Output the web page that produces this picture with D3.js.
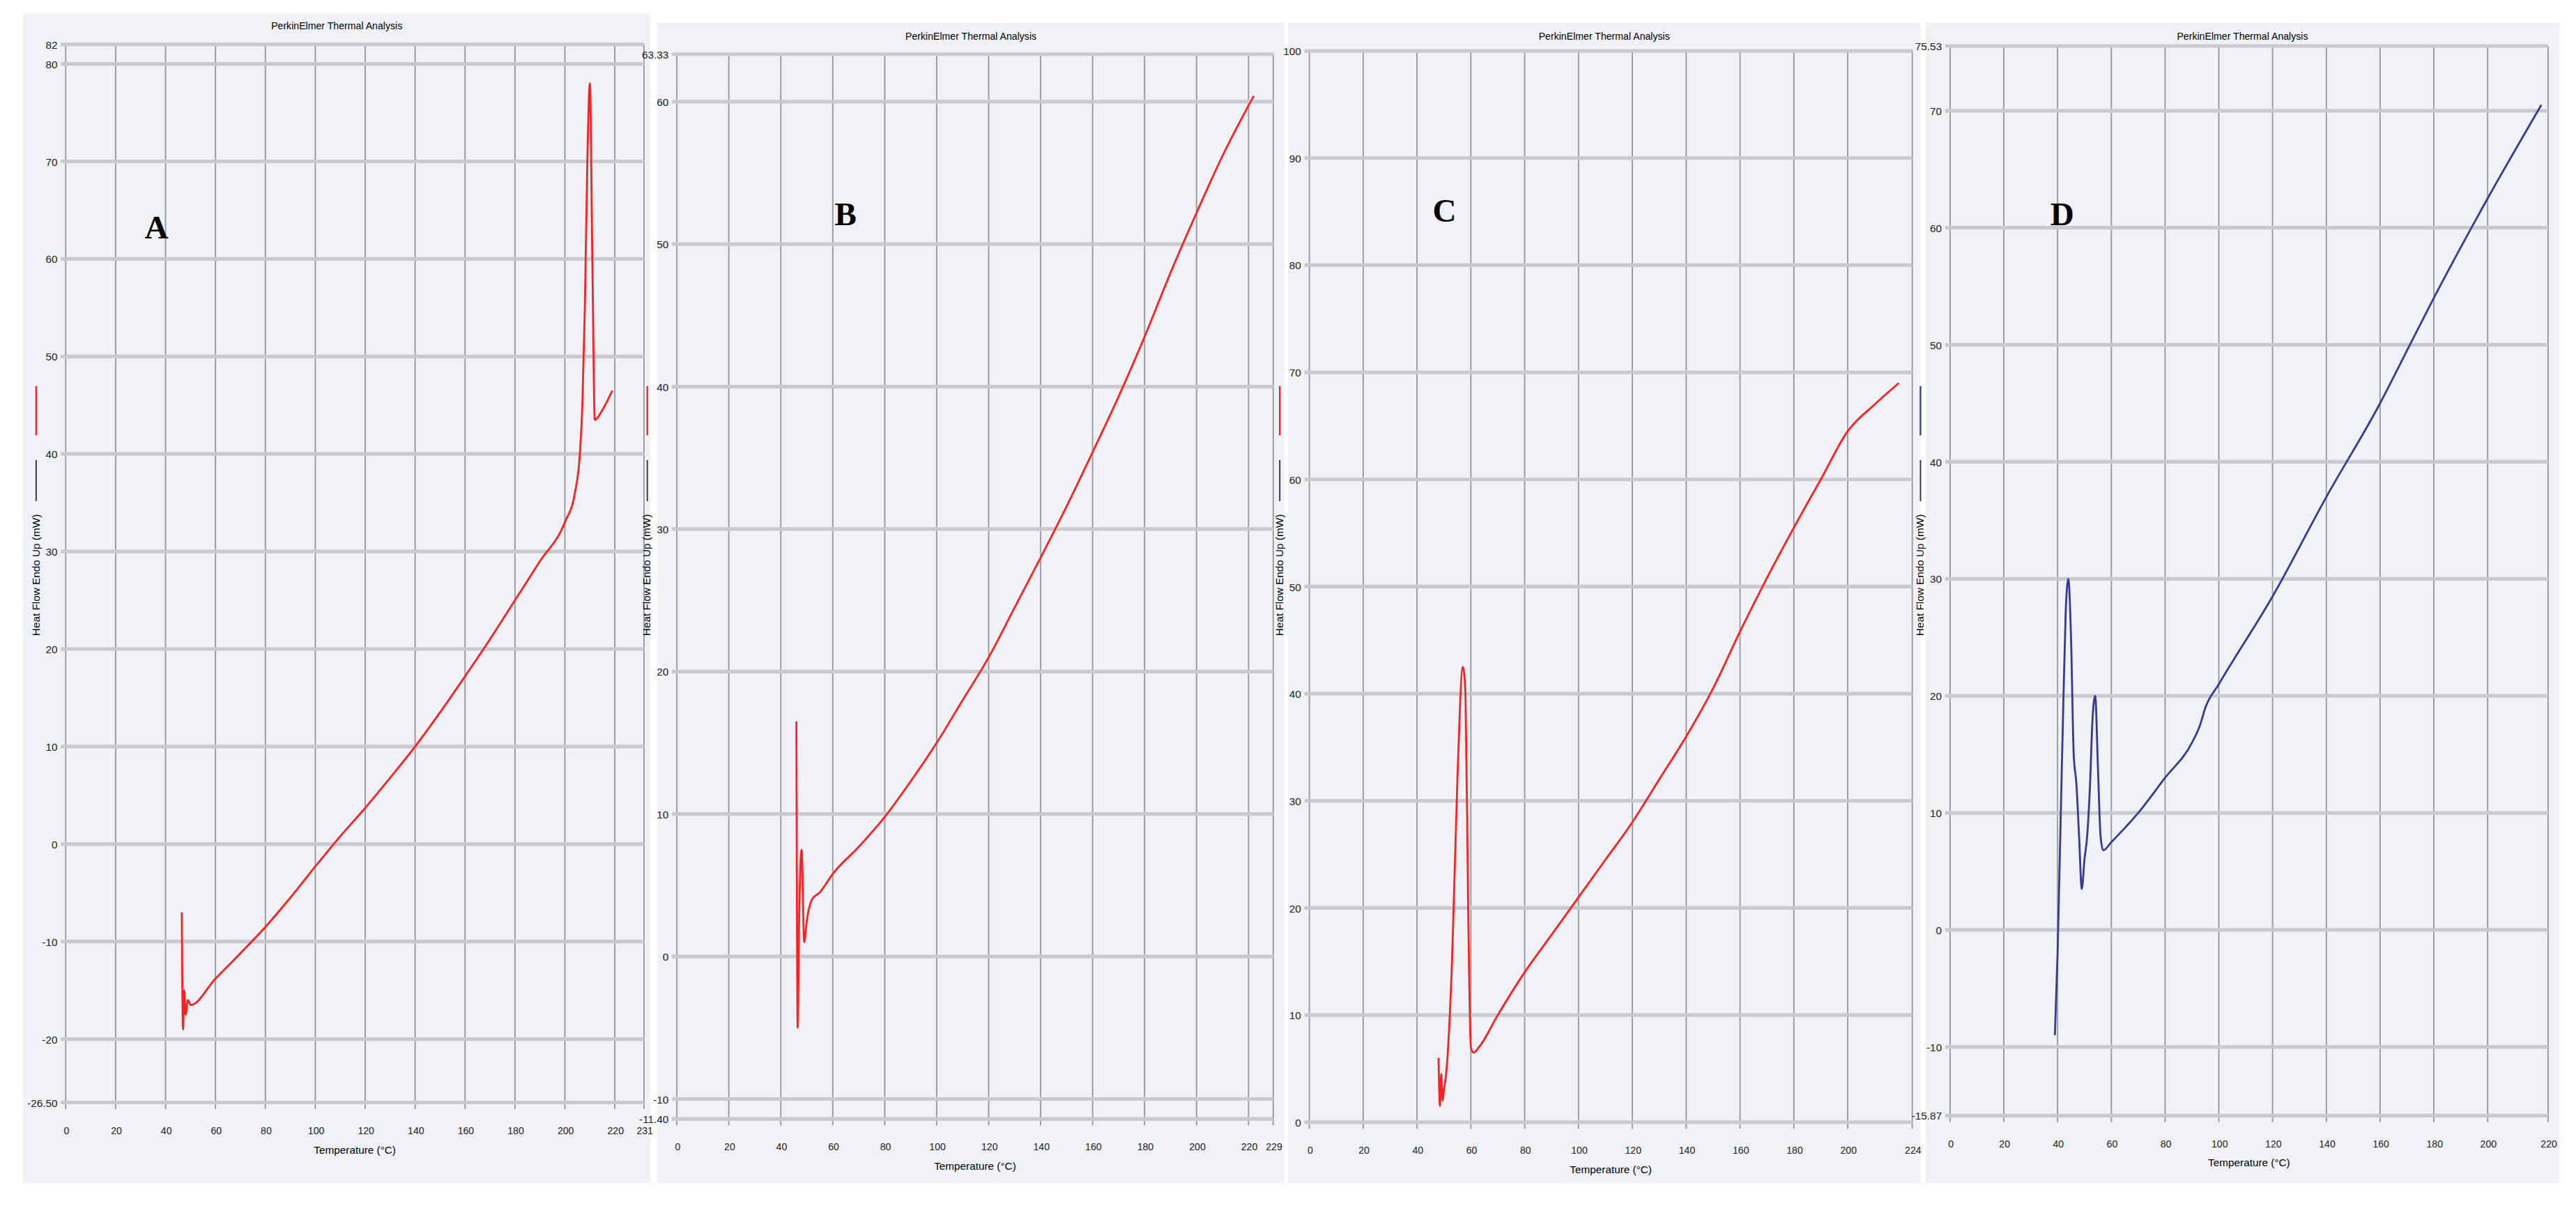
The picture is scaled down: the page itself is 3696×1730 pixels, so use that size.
<!DOCTYPE html>
<html>
<head>
<meta charset="utf-8">
<script src="https://cdn.jsdelivr.net/npm/d3@7"></script>
<style>
  body { margin: 0; background: #fff; }
  svg { display: block; }
  .tick text { font-family: "Liberation Sans", Arial, sans-serif; font-size: 6.5px; fill: #222; }
  .domain { display: none; }
</style>
</head>
<body>
<div id="chart"></div>
<script>
// DSC curves (temperature in °C, heat flow in mW)
const tempA = [46.5, 47, 47.5, 48, 49, 50, 60, 70, 80, 90, 100, 110, 120, 130, 140, 150, 160, 170, 180, 190, 200, 204, 206, 207, 208, 209, 210, 211, 212, 215, 219];
const flowA = [-7, -19, -15, -17.5, -16, -16.5, -13.8, -11.2, -8.5, -5.5, -2.3, 0.8, 3.7, 6.8, 10, 13.5, 17.2, 21, 25, 29, 33, 36, 40, 45, 55, 70, 78, 60, 43.5, 44.5, 46.5];

const tempB = [46, 46.5, 47, 48, 49, 50, 52, 55, 60, 70, 80, 90, 100, 110, 120, 130, 140, 150, 160, 170, 180, 190, 200, 210, 222];
const flowB = [16.5, -5, 2, 7.5, 1, 2.5, 4, 4.5, 5.8, 7.7, 9.8, 12.3, 15, 18, 21, 24.5, 28, 31.6, 35.4, 39.3, 43.5, 48, 52.2, 56.2, 60.4];

const tempC = [48, 48.5, 49, 49.5, 50, 51, 53, 55, 57, 58, 59, 60, 61, 63, 70, 80, 90, 100, 110, 120, 130, 140, 150, 160, 170, 180, 190, 200, 210, 219];
const flowC = [6, 1.5, 4.5, 2, 3, 5, 15, 32, 42.5, 40, 20, 7, 6.5, 7, 10, 14, 17.5, 21, 24.5, 28, 32, 36, 40.5, 45.8, 50.8, 55.5, 60, 64.5, 67, 69];

const tempD = [39, 40, 41, 42, 43, 44, 45, 46, 47, 48, 49, 50, 51, 52, 53, 54, 55, 56, 57, 60, 70, 80, 90, 93, 95, 100, 120, 140, 160, 170, 180, 200, 220];
const flowD = [-9, -2, 8, 18, 27, 30, 25, 15, 12.5, 8, 3.5, 6, 8, 12, 18, 20, 14, 8, 6.8, 7.5, 10, 13, 16, 17.5, 19, 21, 28.5, 37, 45, 49.5, 54, 62.5, 70.5];

const xTicksA = [0, 20, 40, 60, 80, 100, 120, 140, 160, 180, 200, 220, 231.7];
const xTicksB = [0, 20, 40, 60, 80, 100, 120, 140, 160, 180, 200, 220, 229.5];
const xTicksC = [0, 20, 40, 60, 80, 100, 120, 140, 160, 180, 200, 224];
const xTicksD = [0, 20, 40, 60, 80, 100, 120, 140, 160, 180, 200, 222.5];
const xLabelsA = ["0", "20", "40", "60", "80", "100", "120", "140", "160", "180", "200", "220", "231"];
const xLabelsB = ["0", "20", "40", "60", "80", "100", "120", "140", "160", "180", "200", "220", "229"];
const xLabelsC = ["0", "20", "40", "60", "80", "100", "120", "140", "160", "180", "200", "224"];
const xLabelsD = ["0", "20", "40", "60", "80", "100", "120", "140", "160", "180", "200", "220"];

const yTicksA = [-26.5, -20, -10, 0, 10, 20, 30, 40, 50, 60, 70, 80, 82];
const yLabelsA = ["-26.50", "-20", "-10", "0", "10", "20", "30", "40", "50", "60", "70", "80", "82"];
const yTicksB = [-11.4, -10, 0, 10, 20, 30, 40, 50, 60, 63.33];
const yLabelsB = ["-11.40", "-10", "0", "10", "20", "30", "40", "50", "60", "63.33"];
const yTicksC = [0, 10, 20, 30, 40, 50, 60, 70, 80, 90, 100];
const yLabelsC = ["0", "10", "20", "30", "40", "50", "60", "70", "80", "90", "100"];
const yTicksD = [-15.87, -10, 0, 10, 20, 30, 40, 50, 60, 70, 75.53];
const yLabelsD = ["-15.87", "-10", "0", "10", "20", "30", "40", "50", "60", "70", "75.53"];

const panelNames = ["A", "B", "C", "D"];

// drawing in the reference's scaled-down frame, then stretched to the window
const W = 1568, H = 734;
const svg = d3.select("#chart").append("svg")
  .attr("width", 3696).attr("height", 1730)
  .attr("viewBox", `0 0 ${W} ${H}`)
  .attr("preserveAspectRatio", "none");

const panels = [
  { name: panelNames[0], t: tempA, f: flowA, xt: xTicksA, xl: xLabelsA, yt: yTicksA, yl: yLabelsA,
    bg: [14, 8, 382, 712], xr: [40, 392], yd: [-26.5, 82], yr: [671, 27], color: "#ff2020", lab: [88, 145] },
  { name: panelNames[1], t: tempB, f: flowB, xt: xTicksB, xl: xLabelsB, yt: yTicksB, yl: yLabelsB,
    bg: [400, 14, 382, 706], xr: [412, 775], yd: [-11.4, 63.33], yr: [681, 33], color: "#ff2020", lab: [508, 137] },
  { name: panelNames[2], t: tempC, f: flowC, xt: xTicksC, xl: xLabelsC, yt: yTicksC, yl: yLabelsC,
    bg: [784, 14, 385, 706], xr: [797, 1164], yd: [0, 100], yr: [683, 31], color: "#ff2020", lab: [872, 135] },
  { name: panelNames[3], t: tempD, f: flowD, xt: xTicksD, xl: xLabelsD, yt: yTicksD, yl: yLabelsD,
    bg: [1172, 14, 386, 706], xr: [1187, 1551], yd: [-15.87, 75.53], yr: [679, 28], color: "#3a3a96", lab: [1248, 137] }
];

panels.forEach(function (p) {
  const g = svg.append("g");
  g.append("rect")
    .attr("x", p.bg[0]).attr("y", p.bg[1])
    .attr("width", p.bg[2]).attr("height", p.bg[3])
    .style("fill", "#f1f2f8");

  const x = d3.scaleLinear().domain([0, p.xt[p.xt.length - 1]]).range(p.xr);
  const y = d3.scaleLinear().domain(p.yd).range(p.yr);

  // vertical grid
  g.append("g").selectAll("line").data(p.xt).join("line")
    .attr("x1", d => x(d)).attr("x2", d => x(d))
    .attr("y1", y(p.yd[1])).attr("y2", y(p.yd[0]) + 4)
    .style("stroke", "#9a9a9a").style("stroke-width", 0.8);
  // horizontal grid (thick grey bands)
  g.append("g").selectAll("line").data(p.yt).join("line")
    .attr("x1", p.xr[0] - 3).attr("x2", p.xr[1])
    .attr("y1", d => y(d)).attr("y2", d => y(d))
    .style("stroke", "#c9c9cf").style("stroke-width", 2.2);

  g.append("g")
    .attr("transform", `translate(0, ${y(p.yd[0]) + 6})`)
    .call(d3.axisBottom(x).tickValues(p.xt).tickSize(0).tickPadding(9)
      .tickFormat((d, i) => p.xl[i]))
    .selectAll(".tick text").style("font-size", "6px");
  g.append("g")
    .attr("transform", `translate(${p.xr[0] - 2}, 0)`)
    .call(d3.axisLeft(y).tickValues(p.yt).tickSize(0).tickPadding(3)
      .tickFormat((d, i) => p.yl[i]));

  const mid = (p.bg[0] + p.bg[0] + p.bg[2]) / 2;
  g.append("text")
    .attr("x", mid).attr("y", p.bg[1] + 10)
    .attr("text-anchor", "middle")
    .style("font", "6px 'Liberation Sans', Arial, sans-serif")
    .text("PerkinElmer Thermal Analysis");
  g.append("text")
    .attr("x", (p.xr[0] + p.xr[1]) / 2).attr("y", y(p.yd[0]) + 31)
    .attr("text-anchor", "middle")
    .style("font", "6.5px 'Liberation Sans', Arial, sans-serif")
    .text("Temperature (°C)");
  g.append("text")
    .attr("transform", `translate(${p.xr[0] - 16}, 350) rotate(-90)`)
    .attr("text-anchor", "middle")
    .style("font", "6.5px 'Liberation Sans', Arial, sans-serif")
    .text("Heat Flow Endo Up (mW)");

  // legend stubs beside the y axis
  g.append("line")
    .attr("x1", p.xr[0] - 18).attr("x2", p.xr[0] - 18)
    .attr("y1", 235).attr("y2", 265)
    .style("stroke", p.color).style("stroke-width", 1);
  g.append("line")
    .attr("x1", p.xr[0] - 18).attr("x2", p.xr[0] - 18)
    .attr("y1", 280).attr("y2", 305)
    .style("stroke", "#333").style("stroke-width", 0.8);

  g.append("text")
    .attr("x", p.lab[0]).attr("y", p.lab[1])
    .style("font", "bold 20px 'Liberation Serif', 'Times New Roman', serif")
    .text(p.name);

  const line = d3.line().x((d, i) => x(p.t[i])).y(d => y(d)).curve(d3.curveMonotoneX);
  g.append("path")
    .datum(p.f)
    .attr("d", line)
    .style("fill", "none")
    .style("stroke", p.color)
    .style("stroke-width", 1.2);
});
</script>
</body>
</html>
